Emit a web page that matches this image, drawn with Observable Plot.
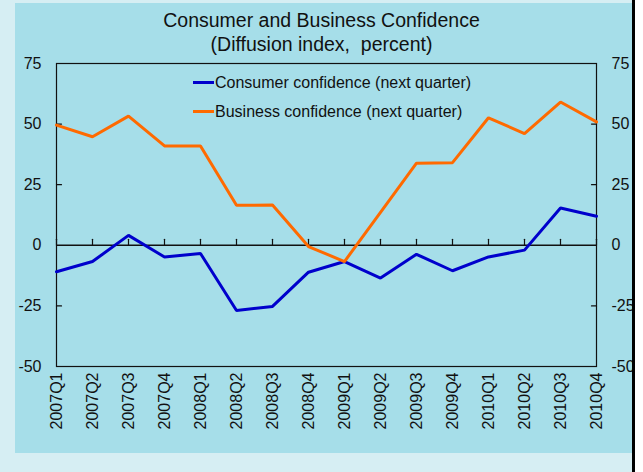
<!DOCTYPE html>
<html>
<head>
<meta charset="utf-8">
<script src="https://cdn.jsdelivr.net/npm/d3@7"></script>
<script src="https://cdn.jsdelivr.net/npm/@observablehq/plot@0.6"></script>
<style>
  html, body { margin: 0; padding: 0; background: #ffffff; }
  #wrap { position: relative; width: 643px; height: 472px; background: #d6eef3; overflow: hidden;
          font-family: "Liberation Sans", Arial, Helvetica, sans-serif; color: #111; }
  #panel { position: absolute; left: 15px; top: 3px; width: 617px; height: 450px; background: #a6dee9; overflow: hidden; }
  #edge { position: absolute; left: 632px; top: 0; width: 3px; height: 472px; background: #000; }
  #white { position: absolute; left: 635px; top: 0; width: 8px; height: 472px; background: #fff; }
  #chart { position: absolute; left: -15px; top: -3px; width: 643px; height: 472px; }
  #chart svg { max-width: none !important; width: 643px; height: 472px; display: block; }
  .title { position: absolute; left: 0; width: 643px; text-align: center; font-size: 19.5px; line-height: 24px; white-space: pre; }
  .leg { position: absolute; left: 193px; height: 20px; line-height: 20px; font-size: 16px; white-space: nowrap; }
  .leg .sw { display: inline-block; width: 21px; height: 3px; vertical-align: middle; margin-right: 1px; position: relative; top: -1px; }
</style>
</head>
<body>
<div id="wrap">
  <div id="panel"><div id="chart"></div></div>
  <div class="title" style="top:8px">Consumer and Business Confidence</div>
  <div class="title" style="top:32px">(Diffusion index,  percent)</div>
  <div id="legend"></div>
  <div id="edge"></div>
  <div id="white"></div>
</div>
<script>
const quarters = ["2007Q1","2007Q2","2007Q3","2007Q4","2008Q1","2008Q2","2008Q3","2008Q4",
                  "2009Q1","2009Q2","2009Q3","2009Q4","2010Q1","2010Q2","2010Q3","2010Q4"];
const consumer = [-10.9, -6.7, 4.1, -4.8, -3.4, -26.9, -25.2, -11.1,
                  -6.7, -13.5, -3.7, -10.5, -4.8, -2.0, 15.4, 12.0];
const business = [49.6, 44.8, 53.3, 41.0, 41.0, 16.5, 16.6, -0.5,
                  -6.7, 13.6, 33.9, 34.1, 52.6, 46.1, 59.1, 50.9];
const yTicks = [-50, -25, 0, 25, 50, 75];
const seriesNames = ["Consumer confidence (next quarter)", "Business confidence (next quarter)"];
const seriesColors = ["#0000cc", "#ff6a00"];

const rows = quarters.map((q, i) => ({q, consumer: consumer[i], business: business[i]}));
const innerTicks = yTicks.filter(v => v > -50 && v < 75 && v !== 0);
const tickShape = {draw(ctx, l) { ctx.moveTo(0, 0); ctx.lineTo(0, -l); }};

const chart = Plot.plot({
  width: 643,
  height: 472,
  marginLeft: 56,
  marginRight: 47,
  marginTop: 63,
  marginBottom: 106,
  style: {background: "transparent", fontFamily: "'Liberation Sans', Arial, Helvetica, sans-serif", fontSize: "16px", color: "#111", overflow: "visible"},
  x: {type: "point", domain: quarters, padding: 0},
  y: {domain: [-50, 75]},
  marks: [
    Plot.frame({stroke: "#111", strokeWidth: 1.2}),
    Plot.ruleY([0], {stroke: "#111", strokeWidth: 1.5}),
    Plot.vector(quarters, {x: d => d, y: 0, length: 6, rotate: 0, anchor: "start", shape: tickShape, stroke: "#111", strokeWidth: 1.2}),
    Plot.vector(innerTicks, {y: d => d, frameAnchor: "left", length: 5, rotate: 90, anchor: "start", shape: tickShape, stroke: "#111", strokeWidth: 1.2}),
    Plot.vector(innerTicks, {y: d => d, frameAnchor: "right", length: 5, rotate: -90, anchor: "start", shape: tickShape, stroke: "#111", strokeWidth: 1.2}),
    Plot.axisY(yTicks, {anchor: "left", tickSize: 0, tickPadding: 15, fill: "#111", fontSize: 16, tickFormat: d => String(d), label: null}),
    Plot.axisY(yTicks, {anchor: "right", tickSize: 0, tickPadding: 15, fill: "#111", fontSize: 16, tickFormat: d => String(d), label: null}),
    Plot.axisX(quarters, {anchor: "bottom", tickSize: 0, tickPadding: 6, tickRotate: -90, fill: "#111", fontSize: 16, label: null}),
    Plot.line(rows, {x: "q", y: "consumer", stroke: seriesColors[0], strokeWidth: 3, strokeLinejoin: "miter"}),
    Plot.line(rows, {x: "q", y: "business", stroke: seriesColors[1], strokeWidth: 3, strokeLinejoin: "miter"})
  ]
});
document.getElementById("chart").appendChild(chart);

const legend = document.getElementById("legend");
const legendTops = [73, 102];
seriesNames.forEach((name, i) => {
  const row = document.createElement("div");
  row.className = "leg";
  row.style.top = legendTops[i] + "px";
  const sw = document.createElement("span");
  sw.className = "sw";
  sw.style.background = seriesColors[i];
  row.appendChild(sw);
  row.appendChild(document.createTextNode(name));
  legend.appendChild(row);
});
</script>
</body>
</html>
